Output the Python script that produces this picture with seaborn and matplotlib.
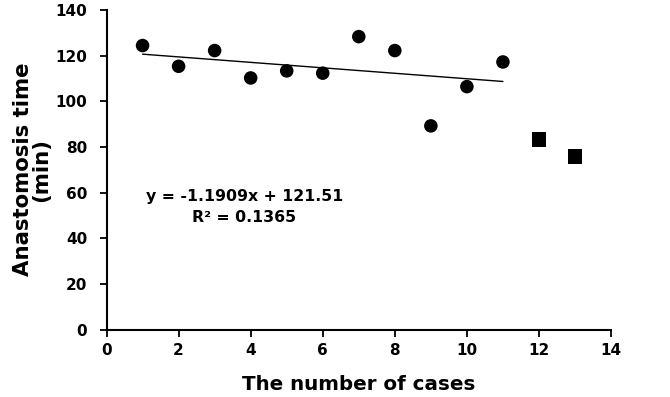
import numpy as np
import pandas as pd
import matplotlib
matplotlib.use("Agg")
import matplotlib.pyplot as plt
import seaborn as sns

# data
cases = [1, 2, 3, 4, 5, 6, 7, 8, 9, 10, 11]
times = [124.4, 115.3, 122.2, 110.2, 113.3, 112.3, 128.3, 122.2, 89.2, 106.4, 117.2]
late_cases = [12, 13]
late_times = [83.3, 75.8]

df = pd.DataFrame({"case": cases, "time": times})
df_late = pd.DataFrame({"case": late_cases, "time": late_times})

sns.set_style("ticks")
plt.rcParams["font.family"] = ["DejaVu Sans"]
plt.rcParams["font.weight"] = "bold"
plt.rcParams["text.color"] = "black"
plt.rcParams["axes.labelcolor"] = "black"
plt.rcParams["xtick.color"] = "black"
plt.rcParams["ytick.color"] = "black"

fig = plt.figure(figsize=(6.7, 3.97), dpi=100)
ax = fig.add_axes([0.159, 0.170, 0.753, 0.805])

# trendline on the first 11 cases
sns.regplot(data=df, x="case", y="time", ci=None, scatter=False, ax=ax,
            line_kws={"color": "black", "linewidth": 1.0})
sns.scatterplot(data=df, x="case", y="time", ax=ax, color="black",
                marker="o", s=95, edgecolor="none")
sns.scatterplot(data=df_late, x="case", y="time", ax=ax, color="black",
                marker="s", s=115, edgecolor="none")

ax.text(3.82, 58.3, "y = -1.1909x + 121.51", ha="center", va="center",
        fontsize=11.3, fontweight="bold", color="black")
ax.text(3.82, 49.0, "R² = 0.1365", ha="center", va="center",
        fontsize=11.3, fontweight="bold", color="black")

ax.set_xlim(0, 14)
ax.set_ylim(0, 140)
ax.set_xticks(range(0, 15, 2))
ax.set_yticks(range(0, 141, 20))
ax.tick_params(labelsize=11, length=5, width=1.3, colors="black")
ax.tick_params(axis="x", pad=5)
ax.tick_params(axis="y", pad=9)
for lab in ax.get_xticklabels() + ax.get_yticklabels():
    lab.set_fontweight("bold")

ax.set_xlabel("The number of cases", fontsize=14.3, fontweight="bold",
              labelpad=12, color="black")
ax.set_ylabel("Anastomosis time\n(min)", fontsize=15.3, fontweight="bold",
              labelpad=3, linespacing=0.85, color="black")

sns.despine(ax=ax)
for sp in ["left", "bottom"]:
    ax.spines[sp].set_linewidth(1.5)
    ax.spines[sp].set_color("black")

fig.savefig("out.png", dpi=100)
